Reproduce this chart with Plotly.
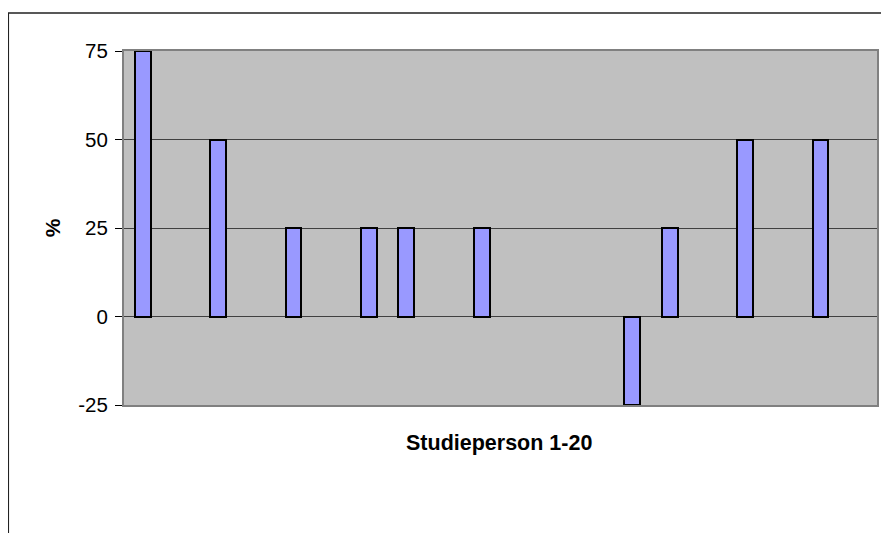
import plotly.graph_objects as go

persons = list(range(1, 21))
values = [75, None, 50, None, 25, None, 25, 25, None, 25,
          None, None, None, -25, 25, None, 50, None, 50, None]
y_ticks = [-25, 0, 25, 50, 75]
y_tick_text = ["-25", "0", "25", "50", "75"]
x_title = "Studieperson 1-20"
y_title = "%"

# the page body adds an 8px offset; work in screen pixels and subtract it
OFF = 8
W, H = 889 - OFF, 533 - OFF
ml, mr, mt, mb = 124 - OFF, 10, 51 - OFF, 128
pw, ph = W - ml - mr, H - mt - mb

def px_x(p):
    return (p - OFF - ml) / pw

def px_y(p):
    return (H - mb - (p - OFF)) / ph

fig = go.Figure()
fig.add_trace(go.Bar(
    x=persons, y=values, width=0.42,
    marker=dict(color="#9999FF", line=dict(color="black", width=2)),
))

fig.update_layout(
    width=W, height=H,
    margin=dict(l=ml, r=mr, t=mt, b=mb),
    paper_bgcolor="white", plot_bgcolor="#C0C0C0",
    showlegend=False,
    font=dict(family="Liberation Sans, Arial, sans-serif", color="black", size=20),
    bargap=0,
    xaxis=dict(range=[0.5, 20.5], showticklabels=False, ticks="", showgrid=False,
               zeroline=False, showline=True, linecolor="#808080", linewidth=2, mirror=True),
    yaxis=dict(range=[-25, 75], tickvals=y_ticks, ticktext=y_tick_text,
               ticks="outside", ticklen=7,
               tickcolor="black", tickwidth=1, showgrid=True, gridcolor="#404040", gridwidth=1,
               zeroline=True, zerolinecolor="#404040", zerolinewidth=1,
               showline=True, linecolor="#808080", linewidth=2, mirror=True,
               tickfont=dict(size=20.5), ticklabelstandoff=3),
    annotations=[
        dict(text="<b>" + x_title + "</b>", x=px_x(500), y=px_y(443), xref="paper", yref="paper",
             showarrow=False, font=dict(size=21.5), xanchor="center", yanchor="middle"),
        dict(text="<b>" + y_title + "</b>", x=px_x(52), y=px_y(228), xref="paper", yref="paper",
             showarrow=False, font=dict(size=21), textangle=-90, xanchor="center", yanchor="middle"),
    ],
    shapes=[
        dict(type="path", xref="paper", yref="paper",
             path=f"M {px_x(8)},{px_y(545)} L {px_x(8)},{px_y(13)} L {px_x(900)},{px_y(13)}",
             line=dict(color="#222222", width=1.5)),
    ],
)

fig.write_html("out.html")
